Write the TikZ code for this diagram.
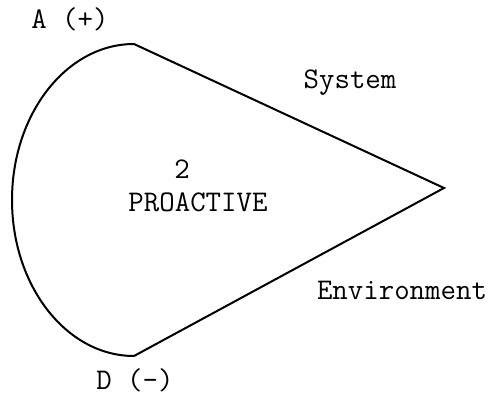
\documentclass[tikz,border=0pt]{standalone}
\begin{document}
\begin{tikzpicture}[x=1pt,y=1pt,
  lbl/.style={inner sep=0pt, font=\ttfamily\fontsize{30}{35}\selectfont, text height=18pt, text depth=0pt, anchor=center},
  edge/.style={line width=2pt, line join=miter}]
\useasboundingbox (0,0) rectangle (491,397);
\coordinate (top) at (134,353);
\coordinate (bot) at (134,41);
\coordinate (tip) at (444,209);
\draw[edge] (top) arc[start angle=90, end angle=270, x radius=122, y radius=156] -- (tip) -- cycle;
\node[lbl] (a) at (70,377) {A (+)};
\node[lbl] (d) at (135,16) {D (-)};
\node[lbl] (n) at (182,227) {2};
\node[lbl] (p) at (198,194) {PROACTIVE};
\node[lbl] (s) at (350,317) {System};
\node[lbl] (e) at (402,106) {Environment};
\end{tikzpicture}
\end{document}
